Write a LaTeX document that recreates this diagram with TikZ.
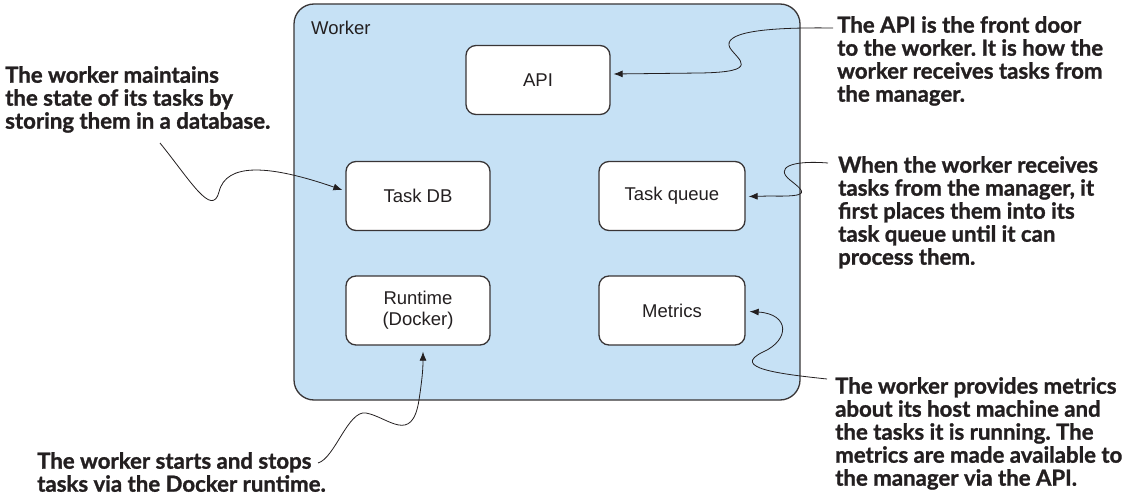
\documentclass[tikz,border=0pt]{standalone}
\usepackage{fontspec}
\usetikzlibrary{arrows.meta,calc}
\newfontfamily\boxfont{Liberation Sans}
\newfontfamily\annfont{Lato}[BoldFeatures={FakeBold=1.2}]
\definecolor{workerblue}{HTML}{C6E1F5}
\definecolor{inkdark}{HTML}{231F20}
\frenchspacing
\begin{document}
\begin{tikzpicture}[x=1pt,y=-1pt,
  workerbox/.style={draw=inkdark!90, line width=1.3pt, fill=workerblue, rounded corners=20pt,
    minimum width=506pt, minimum height=396pt, inner sep=0pt},
  comp/.style={draw=inkdark!90, line width=1.3pt, fill=white, rounded corners=10pt,
    minimum width=144pt, minimum height=69pt, inner sep=0pt, align=center,
    font=\boxfont\fontsize{18.5}{21}\selectfont, text=inkdark},
  note/.style={anchor=north west, inner sep=0pt, align=left, text=inkdark,
    font=\annfont\bfseries\fontsize{22.2}{23}\selectfont},
  callout/.style={draw=inkdark, line width=0.8pt, -{Latex[length=9pt,width=7pt]}}]
\useasboundingbox (0,0) rectangle (1125,503);

\node[workerbox] (worker) at (547,202) {};
\node[anchor=base west, inner sep=0pt, font=\boxfont\fontsize{18.5}{21}\selectfont, text=inkdark] (wlabel) at (311,35) {Worker};

\node[comp] (api) at (538,80) {API};
\node[comp] (taskdb) at (418,196) {Task DB};
\node[comp, minimum width=146pt] (queue) at (672,196) {Task queue};
\node[comp] (runtime) at (418,310.5) {Runtime\\(Docker)};
\node[comp, minimum width=146pt] (metrics) at (672,310.5) {Metrics};

\node[note] (dbnote) at (5,66) {The worker maintains\\the state of its tasks by\\storing them in a database.};
\node[note] (apinote) at (837,16) {The API is the front door\\to the worker. It is how the\\worker receives tasks from\\the manager.};
\node[note] (queuenote) at (838,156) {When the worker receives\\tasks from the manager, it\\first places them into its\\task queue until it can\\process them.};
\node[note] (metricsnote) at (835,377) {The worker provides metrics\\about its host machine and\\the tasks it is running. The\\metrics are made available to\\the manager via the API.};
\node[note] (runnote) at (37,452) {The worker starts and stops\\tasks via the Docker runtime.};

\draw[callout] ($(apinote.north west)+(-4,12)$) .. controls (760,27) and (722,33) .. (730,48)
  .. controls (738,60) and (762,72) .. (700,73) -- ($(api.east)+(3,-6)$);
\draw[callout] ($(queuenote.north west)+(-10,7)$) .. controls (790,160) and (775,168) .. (790,180)
  .. controls (805,192) and (812,197) .. (770,196) -- ($(queue.east)+(3,0.5)$);
\draw[callout] ($(metricsnote.north west)+(-8,2)$) .. controls (780,374) and (730,368) .. (763,352)
  .. controls (790,340) and (790,314) .. ($(metrics.east)+(4,1)$);
\draw[callout] ($(dbnote.north west)+(155,77)$) .. controls (190,180) and (212,218) .. (219,192)
  .. controls (226,162) and (270,165) .. ($(taskdb.west)+(-3,-6)$);
\draw[callout] ($(runnote.north west)+(281,11)$) .. controls (335,458) and (348,410) .. (366,413)
  .. controls (388,417) and (412,445) .. (419,400)
  .. controls (422,380) and (423,370) .. ($(runtime.south)+(5,6)$);
\end{tikzpicture}
\end{document}
